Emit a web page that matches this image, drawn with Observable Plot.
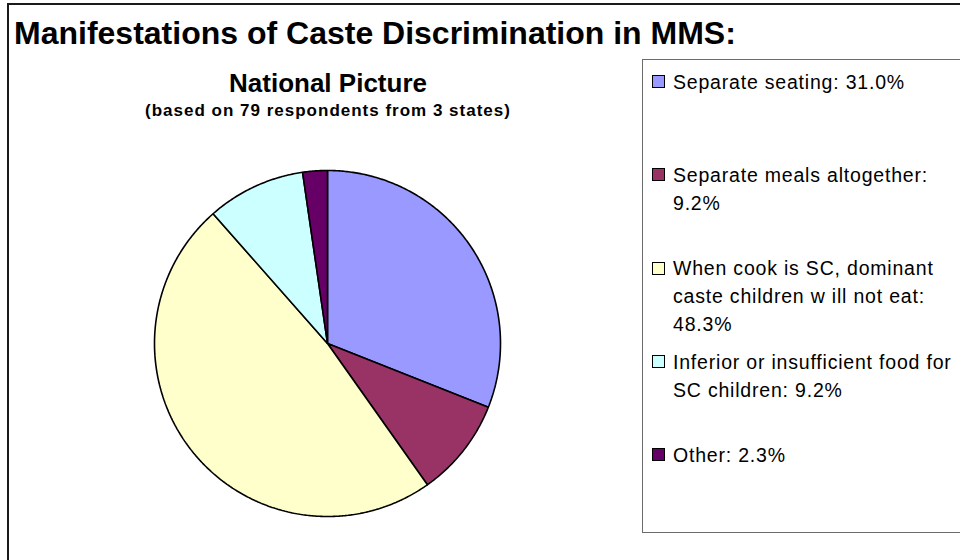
<!DOCTYPE html>
<html>
<head>
<meta charset="utf-8">
<script src="https://cdn.jsdelivr.net/npm/d3@7"></script>
<script src="https://cdn.jsdelivr.net/npm/@observablehq/plot@0.6"></script>
<style>
  html, body { margin: 0; padding: 0; background: #fff; }
  #stage { position: relative; width: 960px; height: 560px; overflow: hidden; background: #fff;
           font-family: "Liberation Sans", Arial, sans-serif; color: #000; }
  #frame { position: absolute; left: 7px; top: 3px; width: 1200px; height: 1200px;
           border: 2px solid #1a1a1a; box-sizing: border-box; }
  .t { position: absolute; white-space: nowrap; line-height: 1; font-weight: bold; }
  #title { left: 14px; top: 17px; font-size: 32px; }
  #sub1 { left: 0; width: 656px; text-align: center; top: 69.5px; font-size: 26px; }
  #sub2 { left: 0; width: 656px; text-align: center; top: 101.6px; font-size: 17px; letter-spacing: 1px; }
  #plot { position: absolute; left: 0; top: 0; }
  #legend { position: absolute; left: 642px; top: 59px; width: 420px; height: 474px;
            border: 1.5px solid #6b6b6b; box-sizing: border-box; }
  .item { position: absolute; left: 0; font-size: 19.5px; line-height: 28px; white-space: nowrap; letter-spacing: 0.8px; }
  .sw { position: absolute; left: 9px; width: 13px; height: 13px; box-sizing: border-box;
        border: 1.3px solid #000; }
  .lbl { position: absolute; left: 30px; top: 0; }
</style>
</head>
<body>
<div id="stage">
  <div id="frame"></div>
  <div id="plot"></div>
  <div class="t" id="title"></div>
  <div class="t" id="sub1"></div>
  <div class="t" id="sub2"></div>
  <div id="legend"></div>
</div>
<script>
// ---- data ----
const titleText = "Manifestations of Caste Discrimination in MMS:";
const subtitleText = "National Picture";
const noteText = "(based on 79 respondents from 3 states)";

const categories = [
  "Separate seating",
  "Separate meals altogether",
  "When cook is SC, dominant caste children w ill not eat",
  "Inferior or insufficient food for SC children",
  "Other"
];
const values = [31.0, 9.2, 48.3, 9.2, 2.3];
const colors = ["#9999FF", "#993366", "#FFFFCC", "#CCFFFF", "#660066"];
// legend text as it wraps in the original
const legendLines = [
  ["Separate seating: 31.0%"],
  ["Separate meals altogether:", "9.2%"],
  ["When cook is SC, dominant", "caste children w ill not eat:", "48.3%"],
  ["Inferior or insufficient food for", "SC children: 9.2%"],
  ["Other: 2.3%"]
];

// ---- titles ----
document.getElementById("title").textContent = titleText;
document.getElementById("sub1").textContent = subtitleText;
document.getElementById("sub2").textContent = noteText;

// ---- pie geometry from data ----
const pie = d3.pie().sort(null).value(d => d.value).startAngle(0).endAngle(2 * Math.PI);
const arcs = pie(categories.map((c, i) => ({category: c, value: values[i]})));
const pts = [];
arcs.forEach(a => {
  const cat = a.data.category;
  pts.push({category: cat, u: 0, v: 0});
  const n = Math.max(4, Math.ceil((a.endAngle - a.startAngle) / (Math.PI / 360)));
  for (let k = 0; k <= n; k++) {
    const t = a.startAngle + (a.endAngle - a.startAngle) * k / n;
    pts.push({category: cat, u: Math.sin(t), v: Math.cos(t)});
  }
});

const cx = 327, cy = 343, r = 173;
const chart = Plot.plot({
  width: 640,
  height: 560,
  margin: 0,
  x: {domain: [-1, 1], range: [cx - r, cx + r], axis: null},
  y: {domain: [1, -1], range: [cy - r, cy + r], axis: null},
  color: {domain: categories, range: colors},
  marks: [
    Plot.line(pts, {
      x: "u", y: "v", z: "category", fill: "category",
      stroke: "#000", strokeWidth: 1.6, strokeLinejoin: "miter",
      curve: "linear-closed"
    })
  ]
});
document.getElementById("plot").appendChild(chart);

// ---- legend (entries in equal slots, top-aligned) ----
const legend = d3.select("#legend");
const slot = 93.3, firstCenter = 80.5 - 59;  // relative to the legend box
categories.forEach((c, i) => {
  const center = firstCenter + i * slot;
  const it = legend.append("div").attr("class", "item").style("top", (center - 13.7) + "px");
  it.append("div").attr("class", "sw").style("top", "7.2px").style("background", colors[i]);
  const l = it.append("div").attr("class", "lbl");
  legendLines[i].forEach(s => l.append("div").text(s));
});
</script>
</body>
</html>
